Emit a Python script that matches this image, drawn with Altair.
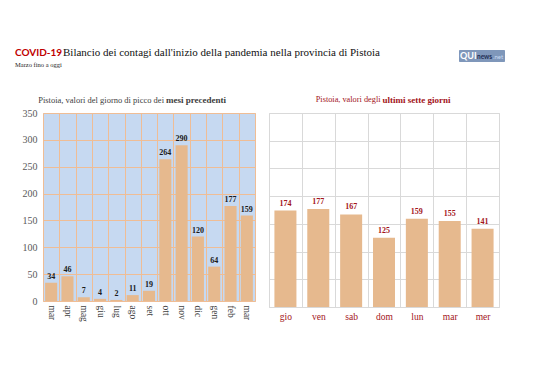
import json
import altair as alt
import pandas as pd

# ---------------- data ----------------
months = ["mar", "apr", "mag", "giu", "lug", "ago", "set", "ott", "nov", "dic", "gen", "feb", "mar"]
month_vals = [34, 46, 7, 4, 2, 11, 19, 264, 290, 120, 64, 177, 159]
days = ["gio", "ven", "sab", "dom", "lun", "mar", "mer"]
day_vals = [174, 177, 167, 125, 159, 155, 141]
y_ticks = [0, 50, 100, 150, 200, 250, 300, 350]

title_red = "COVID-19"
title_rest = "Bilancio dei contagi dall'inizio della pandemia nella provincia di Pistoia"
subtitle = "Marzo fino a oggi"
left_title = ["Pistoia, valori del giorno di picco dei", "mesi precedenti"]
right_title = ["Pistoia, valori degli", "ultimi sette giorni"]
logo = ["QUI", "news", ".net"]

# ---------------- styles ----------------
SERIF = "Liberation Serif"
BAR = "#e6b98e"
DARKRED = "#a3141a"
LEFT_BG = "#c6d9f1"
LEFT_GRID = "#efbd95"
RIGHT_GRID = "#d9d9d9"

left_df = pd.DataFrame({"k": list(range(len(months))), "v": month_vals})
right_df = pd.DataFrame({"k": list(range(len(days))), "v": day_vals})
one = pd.DataFrame({"a": [0]})

month_expr = json.dumps(months) + "[datum.value]"
day_expr = json.dumps(days) + "[datum.value]"

# ---------------- left panel ----------------
lx = alt.X(
    "k:O", title=None,
    scale=alt.Scale(paddingInner=0, paddingOuter=0),
    axis=alt.Axis(labelExpr=month_expr, labelAngle=90, labelFont=SERIF, labelFontSize=9.5,
                  labelColor="#404040", labelPadding=4, ticks=False, domain=False,
                  grid=True, gridColor=LEFT_GRID, tickBand="extent"),
)
ly = alt.Y(
    "v:Q", title=None,
    scale=alt.Scale(domain=[0, 350], nice=False),
    axis=alt.Axis(values=y_ticks, tickCount=8, labelFont=SERIF, labelFontSize=10,
                  labelColor="#595959", ticks=False, domain=False, grid=True,
                  gridColor=LEFT_GRID, labelPadding=6, minExtent=34, labelOverlap=False),
)
lbars = alt.Chart(left_df).mark_bar(color=BAR, width={"band": 0.74}).encode(x=lx, y=ly)
ltext = alt.Chart(left_df).mark_text(
    dy=-6, font=SERIF, fontSize=8, fontWeight="bold", color="#1a1a1a"
).encode(x=lx, y=ly, text="v:Q")
lt1 = alt.Chart(one).mark_text(
    align="right", baseline="middle", font=SERIF, fontSize=8.5, color="#404040"
).encode(x=alt.value(121), y=alt.value(-13.5), text=alt.value(left_title[0]))
lt2 = alt.Chart(one).mark_text(
    align="left", baseline="middle", font=SERIF, fontSize=9, fontWeight="bold", color="#404040"
).encode(x=alt.value(123), y=alt.value(-13.5), text=alt.value(left_title[1]))

left = alt.layer(lbars, ltext, lt1, lt2).properties(
    width=212, height=188,
    view=alt.ViewBackground(fill=LEFT_BG, stroke="#d0d0d0"),
)

# ---------------- right panel ----------------
rx = alt.X(
    "k:O", title=None,
    scale=alt.Scale(paddingInner=0, paddingOuter=0),
    axis=alt.Axis(labelExpr=day_expr, labelAngle=0, labelFont=SERIF, labelFontSize=9.5,
                  labelColor=DARKRED, labelPadding=4, ticks=False, domain=False,
                  grid=True, gridColor=RIGHT_GRID, tickBand="extent"),
)
ry = alt.Y(
    "v:Q", title=None,
    scale=alt.Scale(domain=[0, 350], nice=False),
    axis=alt.Axis(values=y_ticks, labels=False, ticks=False, domain=False, grid=True,
                  gridColor=RIGHT_GRID, minExtent=0),
)
rbars = alt.Chart(right_df).mark_bar(color=BAR, width={"band": 0.67}).encode(x=rx, y=ry)
rtext = alt.Chart(right_df).mark_text(
    dy=-7, font=SERIF, fontSize=8, fontWeight="bold", color=DARKRED
).encode(x=rx, y=ry, text="v:Q")
rt1 = alt.Chart(one).mark_text(
    align="right", baseline="middle", font=SERIF, fontSize=8.3, color=DARKRED
).encode(x=alt.value(111.5), y=alt.value(-13), text=alt.value(right_title[0]))
rt2 = alt.Chart(one).mark_text(
    align="left", baseline="middle", font=SERIF, fontSize=9, fontWeight="bold", color=DARKRED
).encode(x=alt.value(113.5), y=alt.value(-13), text=alt.value(right_title[1]))

right = alt.layer(rbars, rtext, rt1, rt2).properties(
    width=230, height=194,
    view=alt.ViewBackground(fill="white", stroke=RIGHT_GRID),
)

# ---------------- header (origin aligned with left plot edge) ----------------
h1 = alt.Chart(one).mark_text(
    align="left", baseline="middle", font="Lato", fontWeight="bold", fontSize=10, color="#c00000"
).encode(x=alt.value(-28), y=alt.value(44), text=alt.value(title_red))
h2 = alt.Chart(one).mark_text(
    align="left", baseline="middle", font=SERIF, fontSize=11, color="#111111"
).encode(x=alt.value(20), y=alt.value(44), text=alt.value(title_rest))
h3 = alt.Chart(one).mark_text(
    align="left", baseline="middle", font=SERIF, fontSize=6.5, color="#222222"
).encode(x=alt.value(-28), y=alt.value(56), text=alt.value(subtitle))
lg_box = alt.Chart(one).mark_rect(color="#7f97ba", cornerRadius=1).encode(
    x=alt.value(416), x2=alt.value(462), y=alt.value(41), y2=alt.value(53)
)
lg1 = alt.Chart(one).mark_text(
    align="left", baseline="middle", font="Lato", fontWeight="bold", fontSize=9, color="white"
).encode(x=alt.value(417), y=alt.value(47), text=alt.value(logo[0]))
lg2 = alt.Chart(one).mark_text(
    align="left", baseline="middle", font="Lato", fontWeight="bold", fontSize=6.5, color="#1f2f55"
).encode(x=alt.value(434), y=alt.value(48), text=alt.value(logo[1]))
lg3 = alt.Chart(one).mark_text(
    align="left", baseline="middle", font="Lato", fontSize=6, color="#c9dcf5"
).encode(x=alt.value(450), y=alt.value(48), text=alt.value(logo[2]))

header = alt.layer(h1, h2, h3, lg_box, lg1, lg2, lg3).properties(width=460, height=84)

chart = alt.vconcat(
    header,
    alt.hconcat(left, right, spacing=12),
    spacing=0,
).properties(padding=0).configure_view(stroke="transparent")

chart.save("out.html", embed_options={"renderer": "svg", "actions": False})
